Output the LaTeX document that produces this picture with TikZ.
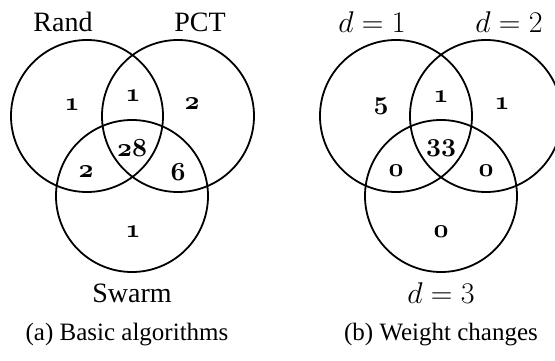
\RequirePackage{fix-cm}
\documentclass[tikz,border=0pt]{standalone}
\usepackage{fontspec}
\setmainfont{Liberation Serif}
\newcommand\osnum[1]{{\usefont{OML}{cmm}{b}{it}#1}}
\tikzset{
  vc/.style={circle, draw, line width=1.8pt, minimum size=152pt, inner sep=0pt},
  lab/.style={inner sep=0pt, font=\fontsize{28}{32}\selectfont},
  mlab/.style={inner sep=0pt, font=\fontsize{30}{34}\selectfont},
  num/.style={inner sep=0pt, font=\fontsize{26}{30}\selectfont},
  captext/.style={inner sep=0pt, font=\fontsize{25}{30}\selectfont}
}
\begin{document}
\begin{tikzpicture}[x=1pt,y=-1pt]
\useasboundingbox (0,0) rectangle (555,361);
% left diagram
\node[vc] (cR) at (87,116) {};
\node[vc] (cP) at (178,116) {};
\node[vc] (cS) at (132,196) {};
\node[lab] (tR) at (63,22) {Rand};
\node[lab] (tP) at (200,22) {PCT};
\node[lab] (tS) at (132,293) {Swarm};
\node[num] (a1) at (72,105) {\osnum{1}};
\node[num] (a2) at (133,96) {\osnum{1}};
\node[num] (a3) at (192,104) {\osnum{2}};
\node[num] (a4) at (132,148) {\osnum{28}};
\node[num] (a5) at (86,172) {\osnum{2}};
\node[num] (a6) at (178,172) {\osnum{6}};
\node[num] (a7) at (133,232) {\osnum{1}};
\node[captext] (capa) at (127,335) {(a) Basic algorithms};
% right diagram
\node[vc] (c1) at (396,116) {};
\node[vc] (c2) at (486,116) {};
\node[vc] (c3) at (441,196) {};
\node[mlab] (t1) at (372,22) {$d=1$};
\node[mlab] (t2) at (509,22) {$d=2$};
\node[mlab] (t3) at (441,293) {$d=3$};
\node[num] (b1) at (381,106) {\osnum{5}};
\node[num] (b2) at (441,97) {\osnum{1}};
\node[num] (b3) at (502,104) {\osnum{1}};
\node[num] (b4) at (441,148) {\osnum{33}};
\node[num] (b5) at (396,171) {\osnum{0}};
\node[num] (b6) at (486,171) {\osnum{0}};
\node[num] (b7) at (441,232) {\osnum{0}};
\node[captext] (capb) at (441,335) {(b) Weight changes};
\end{tikzpicture}
\end{document}
